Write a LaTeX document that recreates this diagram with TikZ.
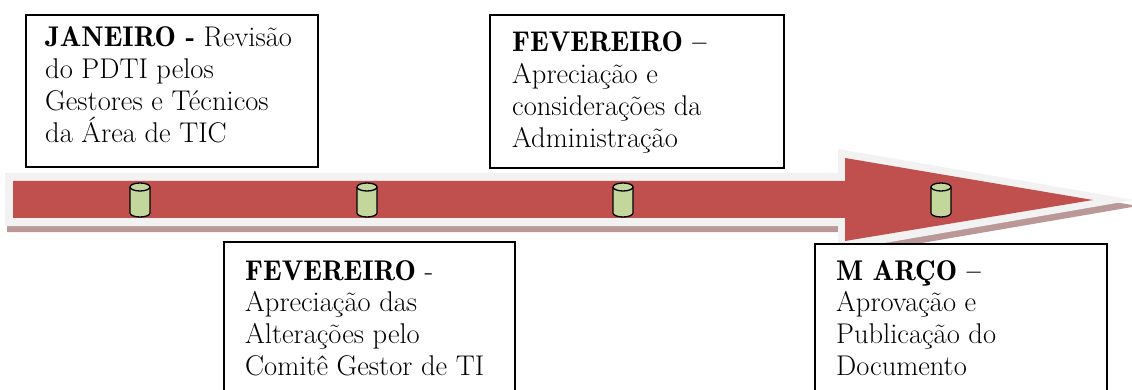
\documentclass[tikz,border=0pt]{standalone}
\usepackage{fontspec}
\definecolor{arrowred}{HTML}{C0504D}
\definecolor{halo}{HTML}{F2F2F2}
\definecolor{shadowc}{RGB}{186,152,152}
\definecolor{cylgreen}{HTML}{C3D69B}
\newcommand{\bb}[1]{{\fontseries{b}\selectfont #1}}
\newcommand{\stack}[1]{\vtop{\baselineskip=31.7pt\lineskiplimit=-10pt #1}}
\tikzset{
  framebox/.style={draw=black, line width=1.6pt, fill=white, inner sep=0pt, anchor=north west},
  boxtext/.style={anchor=base west, inner sep=0pt, text=black, font=\fontsize{28.5}{31.7}\selectfont},
  cylbody/.style={draw=black, line width=1.3pt, fill=cylgreen},
}
\begin{document}
\begin{tikzpicture}[x=1pt,y=-1pt]
\useasboundingbox (0,0) rectangle (1132,390);
% arrow: shadow, halo, body
\fill[shadowc] (7,179) -- (840,179) -- (840,155) -- (1138,206) -- (840,257) -- (840,232) -- (7,232) -- cycle;
\fill[halo] (5,173) -- (838,173) -- (838,149) -- (1134,200) -- (838,251) -- (838,226) -- (5,226) -- cycle;
\fill[arrowred] (13,181) -- (845,181) -- (845,158) -- (1093,200) -- (845,241) -- (845,218) -- (13,218) -- cycle;
% cylinders
\foreach \cx in {140,367,623,941}{
  \draw[cylbody] (\cx-10,187) -- (\cx-10,213) arc[start angle=180,end angle=0,x radius=10,y radius=4]
     -- (\cx+10,187) arc[start angle=0,end angle=-180,x radius=10,y radius=4] -- cycle;
  \draw[line width=1.3pt] (\cx-10,187) arc[start angle=180,end angle=0,x radius=10,y radius=4];
}
% boxes
\node[framebox, minimum width=292pt, minimum height=152pt] (b1) at (25,14) {};
\node[framebox, minimum width=294pt, minimum height=153pt] (b3) at (489,14) {};
\node[framebox, minimum width=291pt, minimum height=160pt] (b2) at (223,241) {};
\node[framebox, minimum width=292pt, minimum height=160pt] (b4) at (814,243) {};
% texts
\node[boxtext] (t1) at (45,47) {\stack{\hbox{\bb{JANEIRO -} Revisão}\hbox{do PDTI pelos}\hbox{Gestores e Técnicos}\hbox{da Área de TIC}}};
\node[boxtext] (t3) at (512,52) {\stack{\hbox{\bb{FEVEREIRO –}}\hbox{Apreciação e}\hbox{considerações da}\hbox{Administração}}};
\node[boxtext] (t2) at (245,280) {\stack{\hbox{\bb{FEVEREIRO} -}\hbox{Apreciação das}\hbox{Alterações pelo}\hbox{Comitê Gestor de TI}}};
\node[boxtext] (t4) at (836,280) {\stack{\hbox{\bb{M ARÇO –}}\hbox{Aprovação e}\hbox{Publicação do}\hbox{Documento}}};
\end{tikzpicture}
\end{document}
